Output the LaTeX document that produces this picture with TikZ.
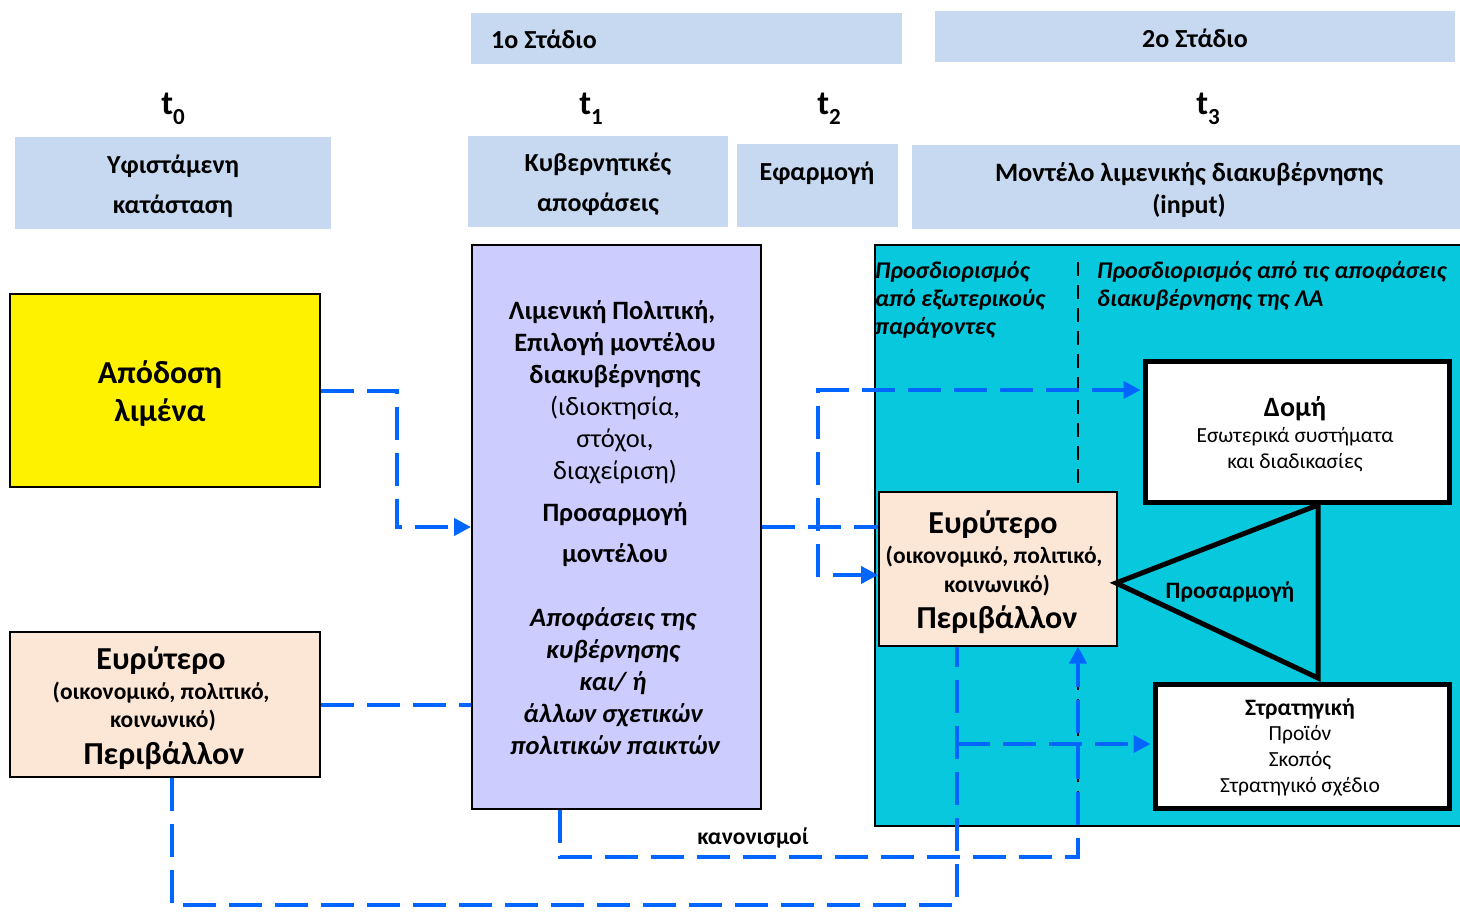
\documentclass[tikz,border=0pt]{standalone}
\usepackage{fontspec}
\setmainfont{Carlito}
\usetikzlibrary{arrows.meta}
\definecolor{hdr}{RGB}{198,217,241}
\definecolor{peach}{RGB}{252,230,214}
\definecolor{lav}{RGB}{204,204,255}
\definecolor{cyanbg}{RGB}{8,200,222}
\definecolor{dblue}{RGB}{0,102,255}
\newcommand{\fsz}[1]{\fontsize{#1}{#1}\selectfont}
\tikzset{
  box/.style={draw, line width=1.5pt, inner sep=0pt, anchor=north west},
  hbox/.style={fill=hdr, inner sep=0pt, anchor=north west},
  thick box/.style={draw, line width=5pt, fill=white, inner sep=0pt, anchor=north west},
  txt/.style={inner sep=0pt, anchor=base, yshift=-0.37*#1, font=\fsz{#1}},
  ltxt/.style={inner sep=0pt, anchor=base west, yshift=-0.37*#1, font=\fsz{#1}},
  dl/.style={draw=dblue, line width=4pt, dash pattern=on 33pt off 13pt},
  arr/.style={-{Triangle[length=17pt,width=17pt]}},
}
\begin{document}
\begin{tikzpicture}[x=1pt,y=-1pt]
\useasboundingbox (0,0) rectangle (1460,915);
% headers
\node[hbox, minimum width=431, minimum height=51] (st1) at (471,13) {};
\node[ltxt=26] (st1t) at (491,39) {\bfseries 1ο Στάδιο};
\node[hbox, minimum width=520, minimum height=51] (st2) at (935,11) {};
\node[txt=26] (st2t) at (1195,38) {\bfseries 2ο Στάδιο};
\node[txt=34] (t0) at (173,102) {\bfseries t\raisebox{-0.28em}{\fsz{23}\bfseries 0}};
\node[txt=34] (t1) at (591,102) {\bfseries t\raisebox{-0.28em}{\fsz{23}\bfseries 1}};
\node[txt=34] (t2) at (829,102) {\bfseries t\raisebox{-0.28em}{\fsz{23}\bfseries 2}};
\node[txt=34] (t3) at (1208,102) {\bfseries t\raisebox{-0.28em}{\fsz{23}\bfseries 3}};
\node[hbox, minimum width=316, minimum height=92] (hb0) at (15,137) {};
\node[txt=26] (hb0a) at (173,164) {\bfseries Υφιστάμενη};
\node[txt=26] (hb0b) at (173,204) {\bfseries κατάσταση};
\node[hbox, minimum width=260, minimum height=91] (hb1) at (468,136) {};
\node[txt=26] (hb1a) at (598,162) {\bfseries Κυβερνητικές};
\node[txt=26] (hb1b) at (598,202) {\bfseries αποφάσεις};
\node[hbox, minimum width=161, minimum height=83] (hb2) at (737,144) {};
\node[txt=26] (hb2a) at (817,171) {\bfseries Εφαρμογή};
\node[hbox, minimum width=548, minimum height=84] (hb3) at (912,145) {};
\node[txt=26.5] (hb3a) at (1189,172) {\bfseries Μοντέλο λιμενικής διακυβέρνησης};
\node[txt=26] (hb3b) at (1189,204) {\bfseries (input)};
% left boxes
\node[box, line width=2pt, fill=yellow, minimum width=310, minimum height=193] (apo) at (9,293) {};
\node[txt=32] (apoa) at (160,372) {\bfseries Απόδοση};
\node[txt=32] (apob) at (160,410) {\bfseries λιμένα};
\node[box, line width=2pt, fill=peach, minimum width=310, minimum height=145] (eur1) at (9,631) {};
\node[txt=32] (eur1a) at (161,658) {\bfseries Ευρύτερο};
\node[txt=23.5] (eur1b) at (161,691) {\bfseries (οικονομικό, πολιτικό,};
\node[txt=23.5] (eur1c) at (163,719) {\bfseries κοινωνικό)};
\node[txt=32] (eur1d) at (164,753) {\bfseries Περιβάλλον};
% purple box
\node[box, line width=1.5pt, fill=lav, minimum width=289, minimum height=564] (pur) at (471,244) {};
\node[txt=26.5] (p1) at (612,310) {\bfseries Λιμενική Πολιτική,};
\node[txt=26.5] (p2) at (615,342) {\bfseries Επιλογή μοντέλου};
\node[txt=26.5] (p3) at (615,374) {\bfseries διακυβέρνησης};
\node[txt=26.5] (p4) at (615,406) {(ιδιοκτησία,};
\node[txt=26.5] (p5) at (615,438) {στόχοι,};
\node[txt=26.5] (p6) at (615,470) {διαχείριση)};
\node[txt=26.5] (p7) at (615,512) {\bfseries Προσαρμογή};
\node[txt=26.5] (p8) at (615,553) {\bfseries μοντέλου};
\node[txt=26.5] (p9) at (613,617) {\bfseries\itshape Αποφάσεις της};
\node[txt=26.5] (p10) at (613,649) {\bfseries\itshape κυβέρνησης};
\node[txt=26.5] (p11) at (613,681) {\bfseries\itshape και/ ή};
\node[txt=26.5] (p12) at (613,713) {\bfseries\itshape άλλων σχετικών};
\node[txt=26.5] (p13) at (615,745) {\bfseries\itshape πολιτικών παικτών};
% cyan area
\node[box, line width=1.5pt, fill=cyanbg, minimum width=590, minimum height=581] (cy) at (874,244) {};
\coordinate (sepa) at (1078,262);
\coordinate (sepb) at (1078,825);
\draw[line width=1.5pt, dash pattern=on 14pt off 9pt] (sepa) -- (sepb);
\node[ltxt=24] (c1) at (875,270) {\bfseries\itshape Προσδιορισμός};
\node[ltxt=24] (c2) at (875,298) {\bfseries\itshape από εξωτερικούς};
\node[ltxt=24] (c3) at (875,326) {\bfseries\itshape παράγοντες};
\node[ltxt=24] (c4) at (1097,270) {\bfseries\itshape Προσδιορισμός από τις αποφάσεις};
\node[ltxt=24] (c5) at (1097,298) {\bfseries\itshape διακυβέρνησης της ΛΑ};
% inner boxes
\node[box, line width=1.5pt, fill=peach, minimum width=238, minimum height=154] (eur2) at (878,491) {};
\node[txt=32] (eur2a) at (993,522) {\bfseries Ευρύτερο};
\node[txt=23.5] (eur2b) at (994,555) {\bfseries (οικονομικό, πολιτικό,};
\node[txt=23.5] (eur2c) at (997,584) {\bfseries κοινωνικό)};
\node[txt=32] (eur2d) at (997,617) {\bfseries Περιβάλλον};
\node[thick box, minimum width=304, minimum height=141] (domi) at (1143,359) {};
\node[txt=28] (d1) at (1295,406) {\bfseries Δομή};
\node[txt=21.5] (d2) at (1295,435) {Εσωτερικά συστήματα};
\node[txt=21.5] (d3) at (1295,461) {και διαδικασίες};
\node[thick box, minimum width=294, minimum height=124] (strat) at (1153,682) {};
\node[txt=23.5] (s1) at (1300,707) {\bfseries Στρατηγική};
\node[txt=21.5] (s2) at (1300,733) {Προϊόν};
\node[txt=21.5] (s3) at (1300,759) {Σκοπός};
\node[txt=21.5] (s4) at (1300,785) {Στρατηγικό σχέδιο};
% triangle
\coordinate (tra) at (1116,583);
\coordinate (trb) at (1318,505);
\coordinate (trc) at (1318,678);
\draw[line width=5pt, line join=miter] (tra) -- (trb) -- (trc) -- cycle;
\node[txt=23.5] (pros) at (1230,590) {\bfseries Προσαρμογή};
\node[txt=23.5] (kan) at (753,836) {\bfseries κανονισμοί};
% connectors
\coordinate (b1) at (397,527);
\draw[dl, arr] (apo.east) -- (apo.east -| b1) -- (b1) -- (b1 -| pur.west);
\draw[dl] (eur1.east) -- (eur1.east -| pur.west);
\coordinate (j) at (818,527);
\draw[dl] (pur.east |- j) -- (j -| eur2.west);
\coordinate (ju) at (818,390);
\coordinate (jd) at (818,575);
\draw[dl, {Triangle[length=17pt,width=17pt]}-{Triangle[length=17pt,width=17pt]}, shorten <=2.5pt] (ju -| domi.west) -- (ju) -- (jd) -- (jd -| eur2.west);
\coordinate (k1) at (560,857);
\coordinate (k2) at (1078,857);
\draw[dl, arr] (pur.south -| k1) -- (k1) -- (k2) -- (k2 |- eur2.south);
\coordinate (m1) at (172,905);
\coordinate (m2) at (957,905);
\draw[dl] (eur1.south -| m1) -- (m1) -- (m2) -- (m2 |- eur2.south);
\coordinate (m3) at (957,744);
\draw[dl, arr, shorten >=2.5pt] (m3) -- (m3 -| strat.west);
\end{tikzpicture}
\end{document}
